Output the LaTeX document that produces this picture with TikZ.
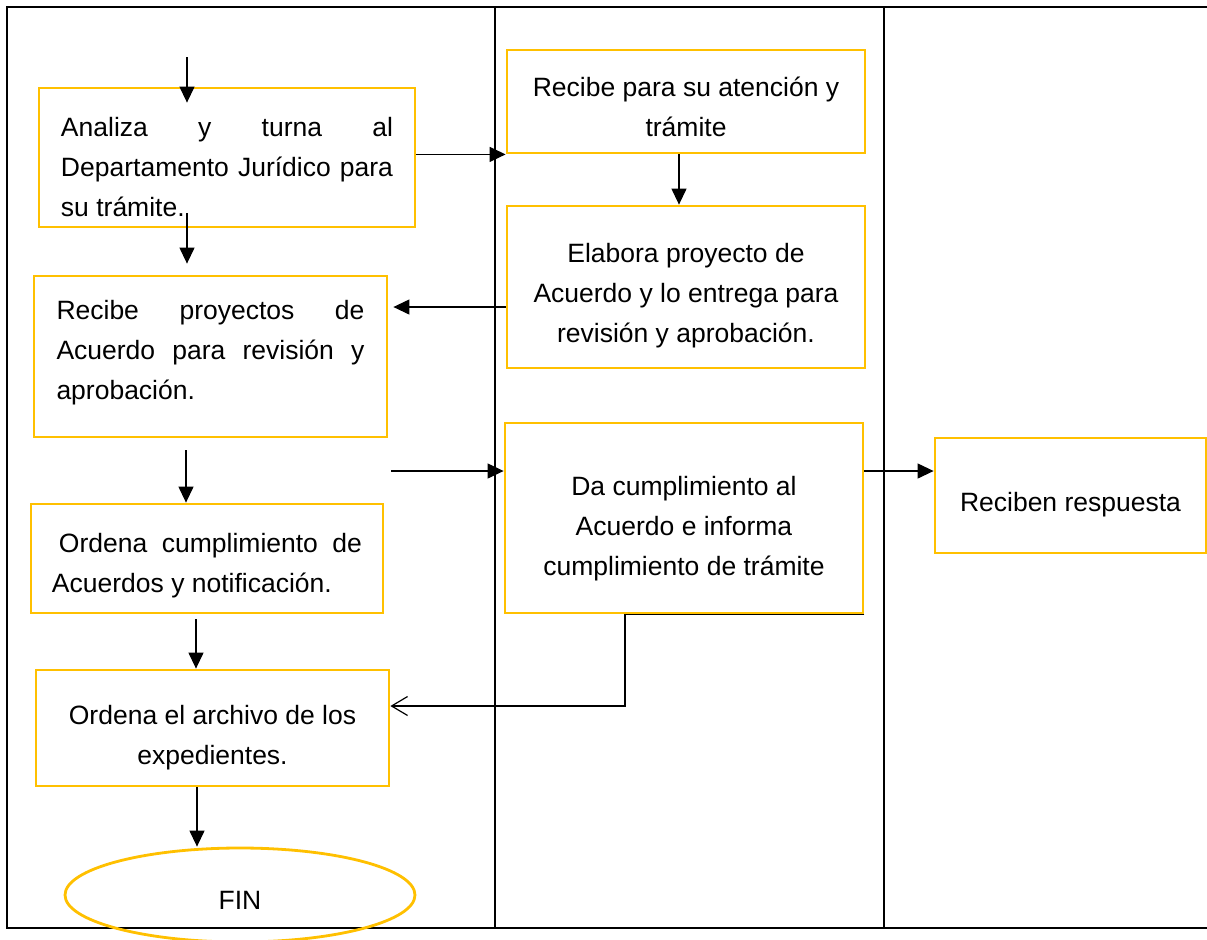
\documentclass[tikz,border=0pt]{standalone}
\usepackage{fontspec}
\setmainfont{Liberation Sans}
\usepackage{tikz}
\usetikzlibrary{arrows.meta}
\usetikzlibrary{shapes.geometric}
\definecolor{boxyellow}{RGB}{255,192,0}
\tikzset{
  caja/.style={draw=boxyellow, line width=1.4pt, inner sep=0pt},
  texto/.style={inner sep=0pt, font=\fontsize{13.25pt}{20pt}\selectfont},
  flecha/.style={line width=0.6pt, -{Triangle[length=8pt,width=7.5pt]}},
  regreso/.style={line width=0.6pt, -{Straight Barb[length=8pt,width=9.5pt]}},
  carril/.style={line width=1pt}
}

\begin{document}
\begin{tikzpicture}[x=0.5pt, y=-0.5pt]
          \clip (0,0) rectangle (1207,939);
          \fill [white] (0,0) rectangle (1207,939);

          \draw [carril] (7,7) rectangle (1220,928); % Draws the frame
          \draw [carril] (495,7) to (495,928);
          \draw [carril] (884,7) to (884,928);

          % boxes
          \node [caja, minimum width=188pt, minimum height=69.5pt] (analiza) at (227,157.5) {};
          \node [caja, minimum width=179pt, minimum height=51.5pt] (recibe) at (686,101.5) {};
          \node [caja, minimum width=179pt, minimum height=81pt] (elabora) at (686,287) {};
          \node [caja, minimum width=176.5pt, minimum height=80.5pt] (revisa) at (210.5,356.5) {};
          \node [caja, minimum width=176pt, minimum height=54.5pt] (ordena) at (207,558.5) {};
          \node [caja, minimum width=179pt, minimum height=95pt] (cumple) at (684,518) {};
          \node [caja, minimum width=135.5pt, minimum height=57.5pt] (respuesta) at (1070.5,495.5) {};
          \node [caja, minimum width=176.5pt, minimum height=58pt] (archivo) at (212.5,728) {};
          \node [caja, ellipse, minimum width=175pt, minimum height=47pt] (fin) at (240,895) {};

          % texts
          \node [texto, text width=166pt, align=justify] (analiza-txt) at ([yshift=-5pt]analiza) {Analiza y turna al\linebreak Departamento Jurídico para\linebreak su trámite.};
          \node [texto, align=center] (recibe-txt) at ([yshift=-2.5pt]recibe) {Recibe para su atención y\\trámite};
          \node [texto, align=center] (elabora-txt) at ([yshift=-4.5pt]elabora) {Elabora proyecto de\\Acuerdo y lo entrega para\\revisión y aprobación.};
          \node [texto, text width=154pt, align=justify] (revisa-txt) at ([yshift=2pt]revisa) {Recibe proyectos de\linebreak Acuerdo para revisión y\linebreak aprobación.};
          \node [texto, text width=155pt, align=justify] (ordena-txt) at ([yshift=-3.5pt]ordena) {\hspace*{3.5pt}Ordena cumplimiento de\linebreak Acuerdos y notificación.};
          \node [texto, align=center] (cumple-txt) at ([yshift=-5.5pt]cumple) {Da cumplimiento al\\Acuerdo e informa\\cumplimiento de trámite};
          \node [texto] (respuesta-txt) at ([yshift=-4.5pt]respuesta) {Reciben respuesta};
          \node [texto, align=center] (archivo-txt) at ([yshift=-5pt]archivo) {Ordena el archivo de los\\expedientes.};
          \node [texto] (fin-txt) at ([yshift=-2.5pt]fin) {FIN};

          \coordinate (inicio) at (187,57);
          \coordinate (libre) at (391,471);

          % connectors
          \draw [flecha, shorten >=-8pt] (inicio) to (inicio |- analiza.north);
          \draw [flecha, shorten <=-7.5pt, shorten >=5.5pt] (analiza.south -| inicio) to (revisa.north -| inicio);
          \draw [flecha] (analiza.east |- recibe.south) to (recibe.south west);
          \draw [flecha] ([xshift=-3.5pt]recibe.south) to ([xshift=-3.5pt]elabora.north);
          \draw [flecha, shorten >=2.5pt] (elabora.west |- 0,307) to (revisa.east |- 0,307);
          \draw [flecha, shorten <=6pt] (revisa.south -| 186,0) to (ordena.north -| 186,0);
          \draw [flecha] (libre) to (libre -| cumple.west);
          \draw [flecha] (cumple.east |- libre) to (respuesta.west |- libre);
          \draw [flecha, shorten <=2.5pt] (ordena.south -| 196,0) to (archivo.north -| 196,0);
          \draw [regreso] (cumple.south east) to (cumple.south -| 625,0) to (625,706) to (archivo.east |- 0,706);
          \draw [flecha] (archivo.south -| 197,0) to (fin.north -| 197,0);
        \end{tikzpicture}
\end{document}
